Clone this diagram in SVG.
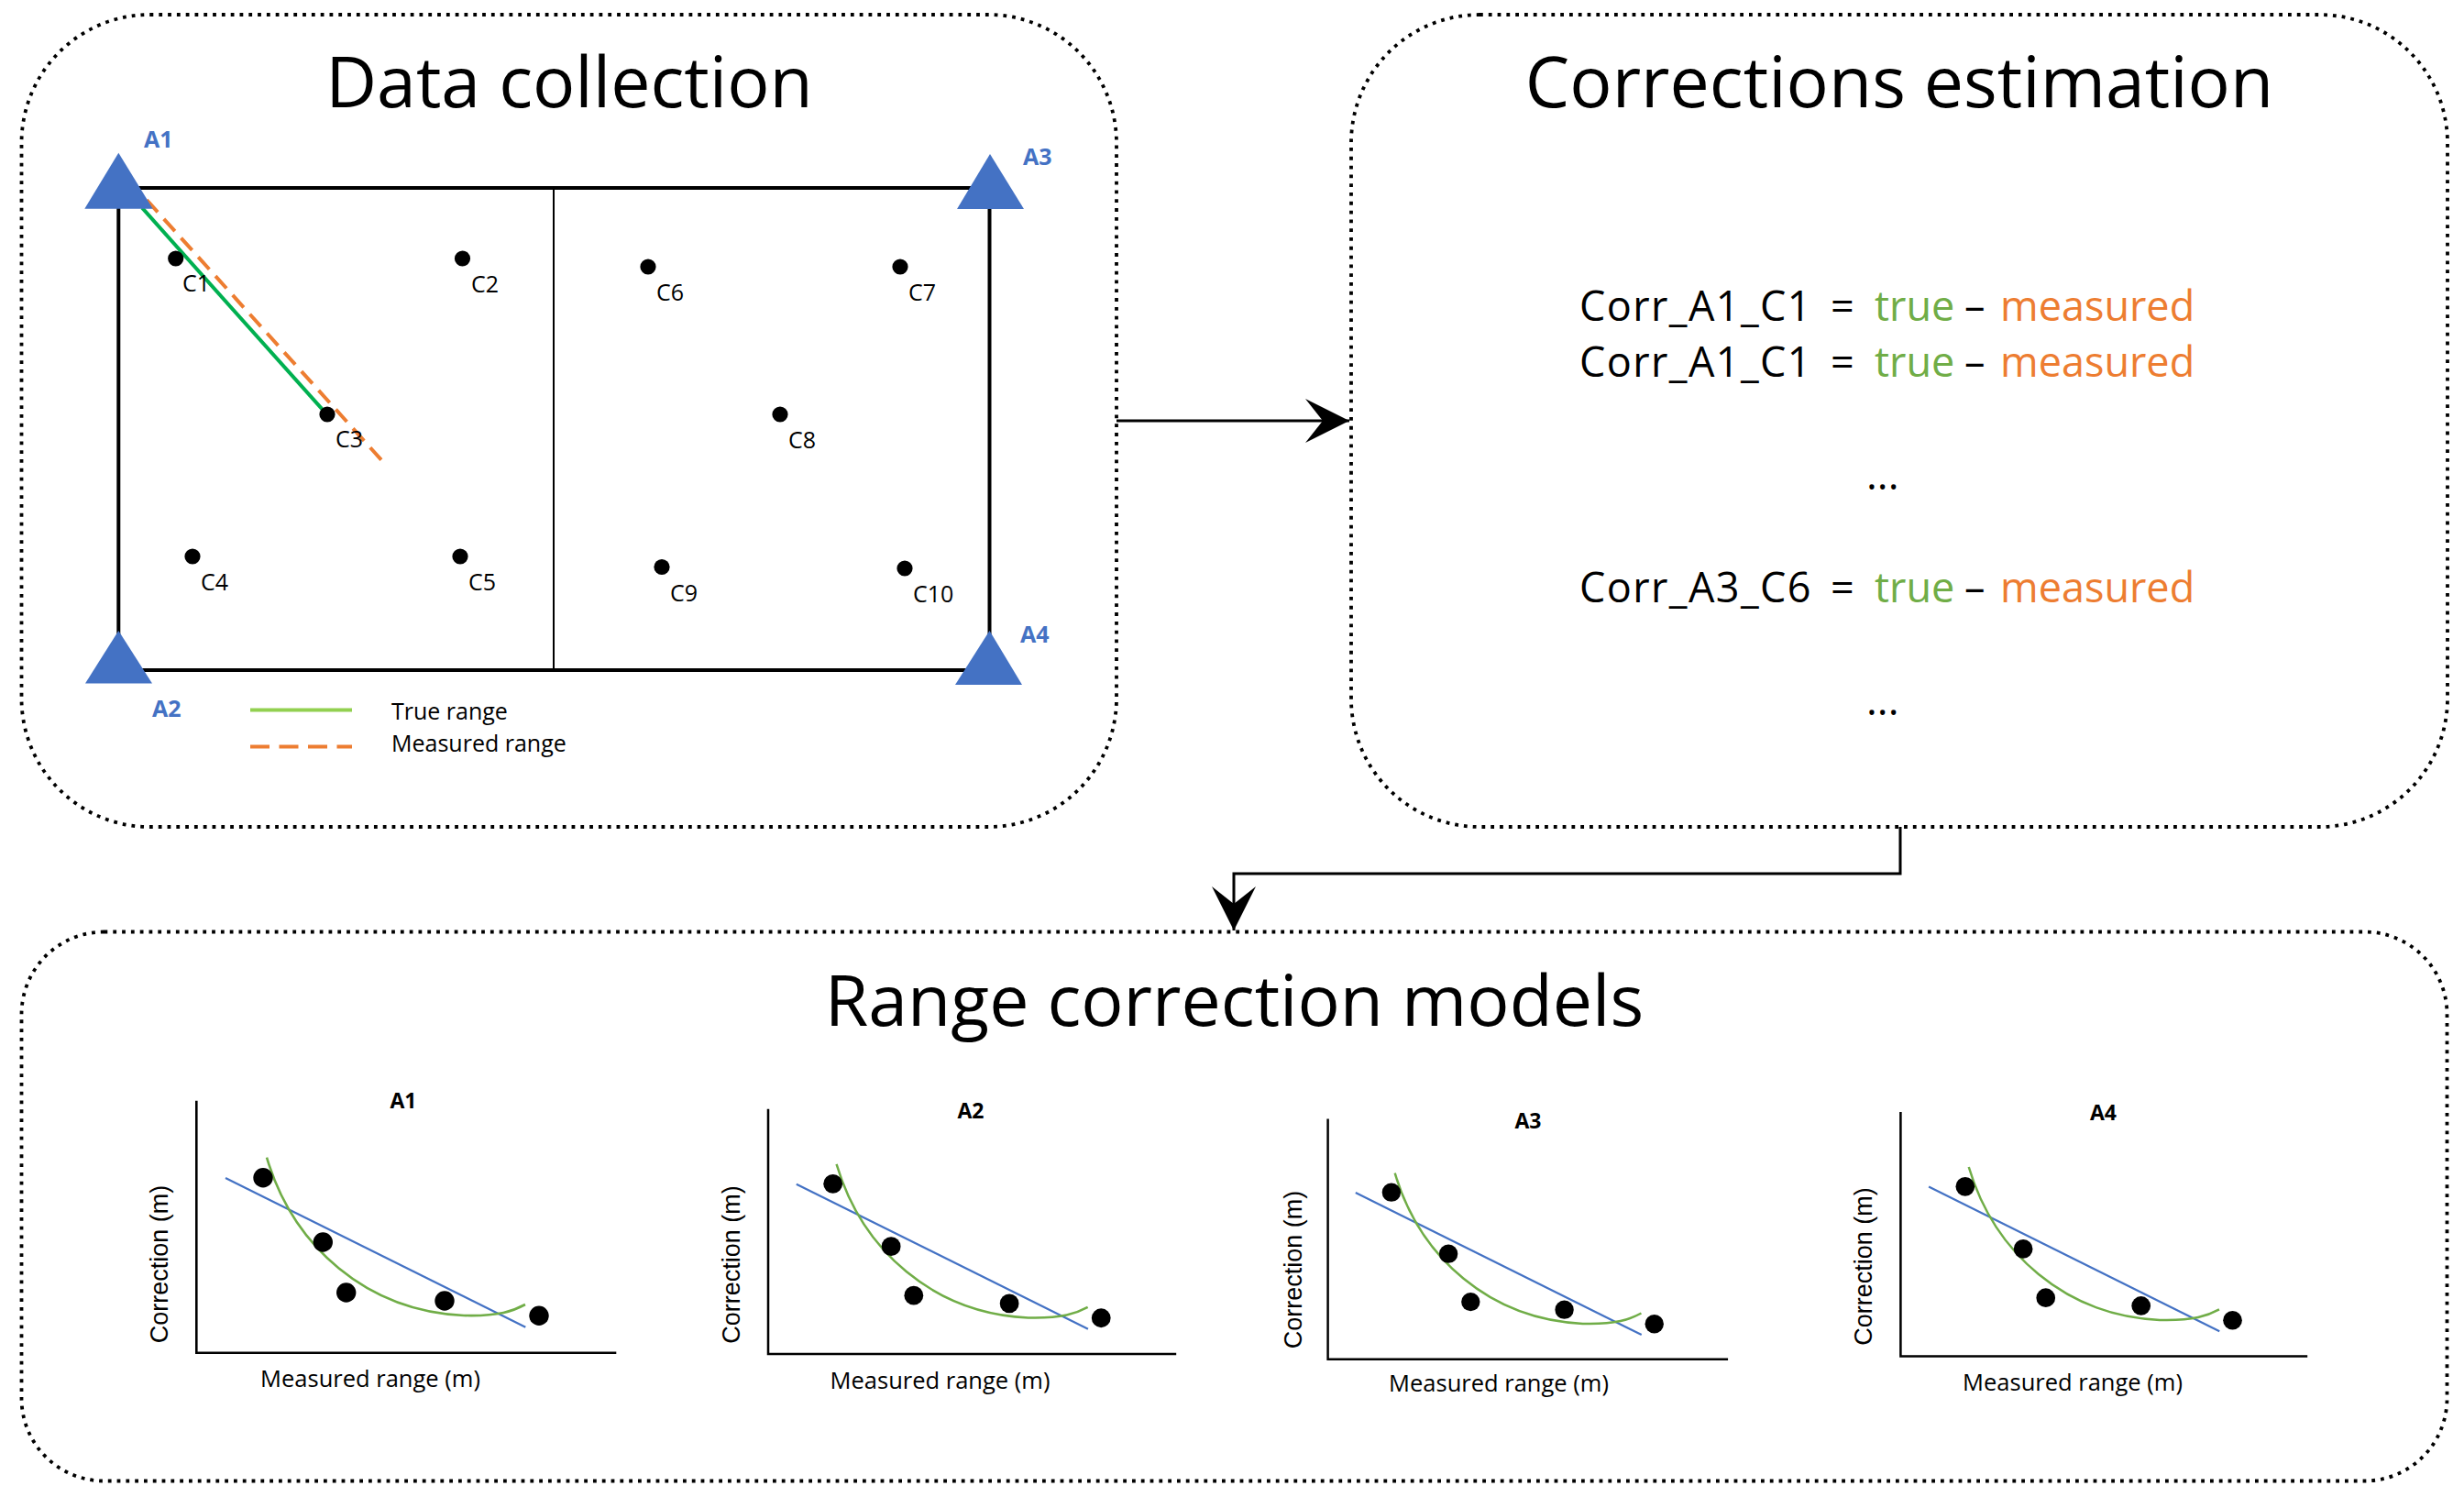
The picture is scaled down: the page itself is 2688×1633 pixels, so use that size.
<svg xmlns="http://www.w3.org/2000/svg" xmlns:xlink="http://www.w3.org/1999/xlink" width="2688" height="1633" viewBox="0 0 2688 1633">
<style>
  .panel { fill: none; stroke: #000; stroke-width: 3.8; stroke-dasharray: 3.8 6; }
  .title { font-family: "Open Sans", "Liberation Sans", sans-serif; font-size: 77px; fill: #000; text-anchor: middle; }
  .anchor { fill: #4472C4; }
  .alabel { font-family: "Open Sans", "Liberation Sans", sans-serif; font-size: 25px; font-weight: bold; fill: #4472C4; }
  .clabel { font-family: "Open Sans", "Liberation Sans", sans-serif; font-size: 25px; fill: #000; }
  .pt { fill: #000; }
  .eq { font-family: "Open Sans", "Liberation Sans", sans-serif; font-size: 45px; fill: #000; }
  .cv { letter-spacing: 1.4px; }
  .tr { fill: #70AD47; }
  .ms { fill: #ED7D31; }
  .conn { fill: none; stroke: #000; stroke-width: 3; }
  .axis { fill: none; stroke: #000; stroke-width: 2.6; }
  .fitline { stroke: #4472C4; stroke-width: 2.3; fill: none; }
  .fitcurve { stroke: #70AD47; stroke-width: 2.6; fill: none; }
  .ctitle { font-family: "Open Sans", "Liberation Sans", sans-serif; font-size: 23px; font-weight: bold; fill: #000; text-anchor: middle; }
  .xlab { font-family: "Open Sans", "Liberation Sans", sans-serif; font-size: 25.5px; fill: #000; text-anchor: middle; }
  .ylab { font-family: "Liberation Sans", "DejaVu Sans", sans-serif; font-size: 27px; fill: #000; text-anchor: middle; }
</style>
<defs>
  <marker id="ah" markerUnits="userSpaceOnUse" markerWidth="60" markerHeight="60" viewBox="-50 -30 60 60" refX="0" refY="0" orient="auto">
    <path d="M0,0 L-48,-24 L-29,0 L-48,24 Z" fill="#000"/>
  </marker>
  <g id="chart">
    <path class="axis" d="M0,-275 V0 H458"/>
    <line class="fitline" x1="31.7" y1="-190.7" x2="359" y2="-28"/>
    <path class="fitcurve" d="M76.7,-213 C105.7,-115.7 185.7,-45.7 291.7,-40.7 C330.7,-39.7 345.7,-45.7 358.7,-52.7"/>
    <circle class="pt" cx="72.7" cy="-191" r="10.7"/>
    <circle class="pt" cx="138" cy="-120.7" r="10.7"/>
    <circle class="pt" cx="163.4" cy="-65.7" r="10.7"/>
    <circle class="pt" cx="270.7" cy="-56.7" r="10.7"/>
    <circle class="pt" cx="373.7" cy="-40.4" r="10.7"/>
  </g>
</defs>
<rect width="2688" height="1633" fill="#fff"/>

<g id="data-collection">
  <rect class="panel" x="23.5" y="16" width="1194.5" height="886" rx="140" ry="140"/>
  <text class="title" x="621" y="117">Data collection</text>
  <rect x="129.3" y="205" width="950.2" height="526" fill="none" stroke="#000" stroke-width="4"/>
  <line x1="604" y1="205" x2="604" y2="731" stroke="#000" stroke-width="2"/>
  <line x1="155" y1="226.7" x2="351.7" y2="446.7" stroke="#00B050" stroke-width="4"/>
  <line x1="160" y1="218" x2="421.7" y2="508" stroke="#ED7D31" stroke-width="4" stroke-dasharray="18 10"/>
  <polygon class="anchor" points="129.3,166.7 92.3,227.7 166.7,227.7"/>
  <polygon class="anchor" points="1080,168 1044,228 1117,228"/>
  <polygon class="anchor" points="129.3,688 93,745.5 166,745.5"/>
  <polygon class="anchor" points="1079.5,688 1042,747 1115,747"/>
  <text class="alabel" x="157" y="161">A1</text>
  <text class="alabel" x="1116" y="180">A3</text>
  <text class="alabel" x="166" y="782">A2</text>
  <text class="alabel" x="1113" y="701">A4</text>
  <circle class="pt" cx="191.7" cy="282" r="8.6"/>
  <circle class="pt" cx="504.5" cy="282" r="8.6"/>
  <circle class="pt" cx="357" cy="452" r="8.6"/>
  <circle class="pt" cx="210" cy="607" r="8.6"/>
  <circle class="pt" cx="502" cy="607" r="8.6"/>
  <circle class="pt" cx="707" cy="291" r="8.6"/>
  <circle class="pt" cx="982" cy="291" r="8.6"/>
  <circle class="pt" cx="851" cy="452" r="8.6"/>
  <circle class="pt" cx="722" cy="618.5" r="8.6"/>
  <circle class="pt" cx="987" cy="620" r="8.6"/>
  <text class="clabel" x="199" y="318">C1</text>
  <text class="clabel" x="514" y="318.5">C2</text>
  <text class="clabel" x="366" y="488">C3</text>
  <text class="clabel" x="219" y="644">C4</text>
  <text class="clabel" x="511" y="644">C5</text>
  <text class="clabel" x="716" y="327.5">C6</text>
  <text class="clabel" x="991" y="327.5">C7</text>
  <text class="clabel" x="860" y="489">C8</text>
  <text class="clabel" x="731" y="655.5">C9</text>
  <text class="clabel" x="996" y="656.5">C10</text>
  <line x1="273" y1="774.6" x2="384" y2="774.6" stroke="#92D050" stroke-width="4"/>
  <line x1="273" y1="814.6" x2="384" y2="814.6" stroke="#ED7D31" stroke-width="4" stroke-dasharray="21 10.5"/>
  <text class="clabel" x="427" y="785">True range</text>
  <text class="clabel" x="427" y="820">Measured range</text>
</g>

<g id="corrections-estimation">
  <rect class="panel" x="1474" y="16" width="1196" height="886" rx="140" ry="140"/>
  <text class="title" x="2072" y="117">Corrections estimation</text>
  <text class="eq" y="350"><tspan x="1723" class="cv">Corr_A1_C1</tspan><tspan x="1997">=</tspan><tspan x="2045" class="tr">true</tspan><tspan x="2143">–</tspan><tspan x="2182" class="ms">measured</tspan></text>
  <text class="eq" y="410.7"><tspan x="1723" class="cv">Corr_A1_C1</tspan><tspan x="1997">=</tspan><tspan x="2045" class="tr">true</tspan><tspan x="2143">–</tspan><tspan x="2182" class="ms">measured</tspan></text>
  <text class="eq" x="2036" y="534">...</text>
  <text class="eq" y="656.7"><tspan x="1723" class="cv">Corr_A3_C6</tspan><tspan x="1997">=</tspan><tspan x="2045" class="tr">true</tspan><tspan x="2143">–</tspan><tspan x="2182" class="ms">measured</tspan></text>
  <text class="eq" x="2036" y="780">...</text>
</g>

<g id="range-correction-models">
  <rect class="panel" x="23.5" y="1016.5" width="2646" height="599" rx="90" ry="90"/>
  <text class="title" x="1346.5" y="1119">Range correction models</text>
</g>

<g id="chart-a1">
  <use xlink:href="#chart" transform="translate(214.3,1475.7)"/>
  <text class="ctitle" x="440" y="1209">A1</text>
  <text class="xlab" x="404" y="1512.7">Measured range (m)</text>
  <text class="ylab" transform="translate(183,1379) rotate(-90)" x="0" y="0">Correction (m)</text>
</g>
<g id="chart-a2">
  <use xlink:href="#chart" transform="translate(838,1477) scale(0.972)"/>
  <text class="ctitle" x="1059" y="1219.5">A2</text>
  <text class="xlab" x="1025.5" y="1515">Measured range (m)</text>
  <text class="ylab" transform="translate(807,1379.5) rotate(-90)" x="0" y="0">Correction (m)</text>
</g>
<g id="chart-a3">
  <use xlink:href="#chart" transform="translate(1448.6,1482.7) scale(0.953)"/>
  <text class="ctitle" x="1667" y="1231">A3</text>
  <text class="xlab" x="1635" y="1518">Measured range (m)</text>
  <text class="ylab" transform="translate(1420,1385) rotate(-90)" x="0" y="0">Correction (m)</text>
</g>
<g id="chart-a4">
  <use xlink:href="#chart" transform="translate(2073.4,1479.4) scale(0.969)"/>
  <text class="ctitle" x="2294.5" y="1221.6">A4</text>
  <text class="xlab" x="2261" y="1516.5">Measured range (m)</text>
  <text class="ylab" transform="translate(2042,1381.5) rotate(-90)" x="0" y="0">Correction (m)</text>
</g>

<g id="connectors">
  <line class="conn" x1="1218" y1="459" x2="1472" y2="459" marker-end="url(#ah)"/>
  <path class="conn" d="M2073,902 V953 H1346 V1015" marker-end="url(#ah)"/>
</g>
</svg>
